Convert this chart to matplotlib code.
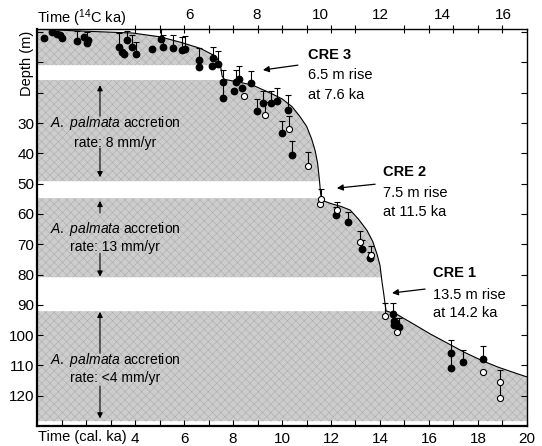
import numpy as np
import matplotlib
matplotlib.use("Agg")
import matplotlib.pyplot as plt

plt.rcParams['font.family'] = 'Liberation Sans'
plt.rcParams['mathtext.fontset'] = 'custom'
plt.rcParams['mathtext.rm'] = 'Liberation Sans'
plt.rcParams['mathtext.it'] = 'Liberation Sans:italic'
plt.rcParams['hatch.linewidth'] = 0.4

# sea-level envelope (time in cal ka, depth in m)
curve_t = [0, 1, 2, 3, 3.9, 5.0, 5.8, 6.65, 7.3, 7.48, 7.55, 7.65, 8.2, 8.8, 9.5, 10.0,
           10.4, 10.7, 11.0, 11.2, 11.35, 11.45, 11.52, 11.57, 11.62, 11.96, 12.4, 12.78,
           13.1, 13.46, 13.7, 13.87, 14.0, 14.07, 14.14, 14.2, 14.25, 14.7, 15.3, 16.0,
           16.7, 17.4, 18.1, 18.76, 19.4, 20]
curve_d = [-1, -0.6, -0.3, 0, 0.3, 1.5, 3.2, 5.3, 8.0, 10.5, 14.5, 15.6, 16.4, 17.5, 20.0, 22.0,
           24.5, 27.5, 31.0, 35.0, 39.0, 43.0, 48.0, 53.0, 55.5, 56.5, 57.5, 58.7,
           61.5, 65.3, 69.0, 73.0, 77.0, 81.8, 85.5, 89.5, 92.0, 93.2, 96.0, 99.4,
           102.4, 105.5, 108.2, 110.4, 112.2, 113.8]

# shaded depth bands (top, bottom)
band_top = [-1, 15.8, 54.8, 92.1]
band_bot = [10.9, 49.2, 80.9, 128.4]

# dated samples: filled and open symbols, with upward error
fill_t = [0.27, 0.61, 0.82, 0.95, 1.02, 1.63, 1.9, 2.1, 2.04, 3.33, 3.47, 3.56, 3.67, 3.88, 4.05,
          4.69, 5.07, 5.13, 5.54, 5.9, 6.04, 6.63, 6.63, 7.13, 7.2, 7.4, 7.58, 7.58, 8.04, 8.12,
          8.26, 8.35, 8.72, 8.97, 9.21, 9.54, 9.78, 10.26, 9.99, 10.42, 12.2, 12.7, 13.28, 13.6,
          14.54, 14.57, 14.57, 14.65, 14.79, 16.89, 16.89, 17.38, 18.22]
fill_d = [1.8, 0.0, 0.5, 1.1, 1.9, 3.0, 1.5, 2.6, 3.6, 4.8, 6.5, 7.3, 2.6, 4.8, 7.3,
          5.6, 2.3, 4.8, 5.1, 6.0, 5.7, 9.2, 11.4, 11.2, 8.5, 10.6, 16.6, 21.9, 19.5, 16.4,
          15.6, 18.4, 16.9, 26.1, 23.5, 23.5, 22.8, 25.7, 33.4, 40.4, 60.2, 62.8, 71.7, 74.5,
          93.0, 95.2, 96.7, 96.0, 97.2, 106.0, 110.8, 108.8, 108.0]
fill_err = [0, 0, 0, 0, 0, 3.5, 0, 0, 3.8, 4.5, 0, 0, 3, 4, 4,
            0, 3.5, 4, 4, 4.5, 4.5, 4, 0, 0, 3.5, 4.5, 4, 5.3, 0, 4,
            4.5, 0, 4, 4, 4, 4, 4.5, 5, 4, 4.5, 2.5, 3.5, 3, 2,
            3.5, 0, 0, 0, 3, 4.5, 4.8, 4, 4.5]

open_t = [8.46, 9.31, 10.3, 11.07, 11.55, 11.6, 12.23, 13.18, 13.63, 14.2, 14.68, 18.22, 18.9, 18.9]
open_d = [21.0, 27.2, 32.1, 44.2, 56.8, 55.2, 58.7, 69.2, 73.6, 93.7, 98.9, 112.1, 115.4, 120.6]
open_err = [0, 4, 4.5, 4.5, 0, 3.5, 2.5, 3.5, 3, 4.2, 0, 0, 4, 5.2]

# axis ticks
top_lab_14c = [6, 8, 10, 12, 14, 16]
top_lab_cal = [6.24, 8.98, 11.55, 14.0, 16.53, 19.02]

fig = plt.figure(figsize=(5.42, 4.46), dpi=100)
ax = fig.add_axes([0.0683, 0.0448, 0.904, 0.890])

tt = np.linspace(0, 20, 4001)
cd = np.interp(tt, curve_t, curve_d)
for top, bot in zip(band_top, band_bot):
    ax.fill_between(tt, np.clip(cd, top, bot), bot, facecolor='#cdcdcd',
                    edgecolor='#adadad', hatch='xxxx', linewidth=0, zorder=1)
ax.plot(tt, cd, color='black', lw=0.8, zorder=2)

fe = np.array(fill_err)
m = fe > 0
ax.errorbar(np.array(fill_t)[m], np.array(fill_d)[m], yerr=[fe[m], np.zeros(m.sum())],
            fmt='none', ecolor='black', elinewidth=0.8, capsize=2.5, capthick=0.8, zorder=3)
oe = np.array(open_err)
m = oe > 0
ax.errorbar(np.array(open_t)[m], np.array(open_d)[m], yerr=[oe[m], np.zeros(m.sum())],
            fmt='none', ecolor='black', elinewidth=0.8, capsize=2.5, capthick=0.8, zorder=3)
ax.plot(fill_t, fill_d, 'o', ms=4.6, mfc='black', mec='black', ls='none', zorder=4)
ax.plot(open_t, open_d, 'o', ms=4.4, mfc='white', mec='black', mew=0.8, ls='none', zorder=4)

ax.set_xlim(0, 20)
ax.set_ylim(130, -1)

# bottom axis
ax.set_xticks(range(2, 21, 2))
ax.set_xticklabels([''] + [str(v) for v in range(4, 21, 2)])
ax.set_xticks(range(1, 20, 2), minor=True)
ax.set_yticks(range(0, 130, 10))
ax.set_yticklabels(['', '', ''] + [str(v) for v in range(30, 130, 10)])
ax.tick_params(axis='x', which='both', direction='in', length=4, width=0.8, pad=4,
               labelsize=11, top=False)
ax.tick_params(axis='y', which='both', direction='in', length=4, width=0.8, pad=2,
               labelsize=11, right=True)
for side in ['left', 'bottom']:
    ax.spines[side].set_linewidth(1.6)
for side in ['top', 'right']:
    ax.spines[side].set_linewidth(1.0)

# top axis (radiocarbon ages)
ax2 = ax.twiny()
ax2.set_xlim(0, 20)
ax2.set_xticks(top_lab_cal)
ax2.set_xticklabels([str(v) for v in top_lab_14c])
ax2.set_xticks(range(4, 20), minor=True)
ax2.tick_params(axis='x', which='major', length=0, pad=5, labelsize=11)
ax2.tick_params(axis='x', which='minor', direction='inout', length=6, width=0.8)
for s in ax2.spines.values():
    s.set_visible(False)

ax.text(0.0, 1.028, r'Time ($^{\mathregular{14}}$C ka)', transform=ax.transAxes,
        ha='left', va='center', fontsize=10.5)
ax.text(0.002, -0.028, 'Time (cal. ka)', transform=ax.transAxes,
        ha='left', va='center', fontsize=10.5)
ax.text(-0.021, 0.914, 'Depth (m)', transform=ax.transAxes, rotation=90,
        ha='center', va='center', fontsize=10.5)

# accretion-rate notes
notes = [(30.0, 36.6, '8 mm/yr', (27.7, 17.5), (38.3, 47.9)),
         (65.0, 70.9, '13 mm/yr', (59.7, 55.7), (73.0, 80.7)),
         (108.3, 114.0, '<4 mm/yr', (106.0, 92.3), (116.8, 127.5))]
for y1, y2, rate, up, down in notes:
    ax.text(3.18, y1, r'$\mathit{A.\ palmata}$ accretion', ha='center', va='center',
            fontsize=10, zorder=5)
    ax.text(3.18, y2, 'rate: ' + rate, ha='center', va='center', fontsize=10, zorder=5)
    ax.annotate('', xy=(2.57, up[1]), xytext=(2.57, up[0]),
                arrowprops=dict(arrowstyle='-|>', color='black', lw=0.8,
                                mutation_scale=8, shrinkA=0, shrinkB=0), zorder=5)
    ax.annotate('', xy=(2.57, down[1]), xytext=(2.57, down[0]),
                arrowprops=dict(arrowstyle='-|>', color='black', lw=0.8,
                                mutation_scale=8, shrinkA=0, shrinkB=0), zorder=5)

# catastrophic rise events
cre = [('CRE 3', '6.5 m rise', 'at 7.6 ka', 11.06, (7.6, 14.2, 20.8), (10.65, 10.9), (9.22, 12.5)),
       ('CRE 2', '7.5 m rise', 'at 11.5 ka', 14.12, (46.2, 53.1, 59.4), (13.8, 50.2), (12.24, 51.5)),
       ('CRE 1', '13.5 m rise', 'at 14.2 ka', 16.16, (79.5, 86.8, 92.7), (15.84, 84.8), (14.49, 86.1))]
for name, rise, when, tx, ys, tail, head in cre:
    ax.text(tx, ys[0], name, ha='left', va='center', fontsize=10.5, fontweight='bold')
    ax.text(tx, ys[1], rise, ha='left', va='center', fontsize=10.5)
    ax.text(tx, ys[2], when, ha='left', va='center', fontsize=10.5)
    ax.annotate('', xy=head, xytext=tail,
                arrowprops=dict(arrowstyle='-|>', color='black', lw=0.9,
                                mutation_scale=9, shrinkA=0, shrinkB=0))

fig.savefig('out.png', dpi=100)
